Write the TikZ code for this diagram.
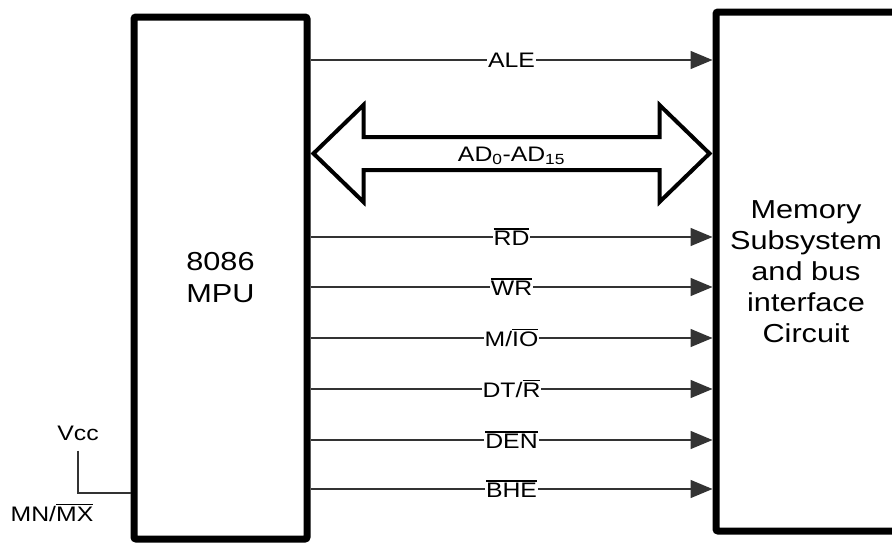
\documentclass[tikz,border=0pt]{standalone}
\usepackage{fontspec}
\setmainfont{Liberation Sans}[FakeStretch=1.18]
\usetikzlibrary{arrows.meta,calc}
\newcommand{\ovbar}[1]{\leavevmode\vbox{\hrule height 1.3pt\kern1.8pt\hbox{#1}}}

\begin{document}
\begin{tikzpicture}[x=1pt, y=-1pt,
    block/.style={draw, line width=7pt, rounded corners=2pt, align=center, font=\fontsize{26}{32}\selectfont},
    sig/.style={draw=black!80, line width=1.5pt, -{Triangle[length=22pt,width=18pt]}},
    wire/.style={draw=black!80, line width=2pt},
    lab/.style={fill=white, inner sep=1pt, font=\fontsize{21}{24}\selectfont}]
    \useasboundingbox (0,0) rectangle (892,542);
    \clip (0,0) rectangle (892,542);

    % --- Blocks ---
    \node[block, minimum width=173pt, minimum height=522pt] (mpu) at (220.5,278) {8086\\MPU};
    \node[block, minimum width=180pt, minimum height=519pt, font=\fontsize{26}{31}\selectfont] (mem) at (806,271.5)
        {Memory\\Subsystem\\and bus\\interface\\Circuit};

    % --- Control lines ---
    \foreach \y/\txt in {60/ALE, 237/\ovbar{RD}, 287/\ovbar{WR}, 338/{M/\ovbar{IO}},
                         389/{DT/\ovbar{R}}, 440/\ovbar{DEN}, 489/\ovbar{BHE}} {
        \coordinate (s\y) at (0,\y);
        \draw[sig] (mpu.east |- s\y) -- node[lab] {\txt} (mem.west |- s\y);
    }

    % --- Address/data bus ---
    \coordinate (bus) at (0,153.5);
    \coordinate (bl) at ($(mpu.east |- bus)+(3,0)$);
    \coordinate (br) at ($(mem.west |- bus)+(-3,0)$);
    \draw[line width=4pt, line join=miter, miter limit=10] (bl) -- ++(50,-48.5) -- ++(0,32)
        -- ($(br)+(-50,-16.5)$) -- ++(0,-32) -- (br) -- ++(-50,48.5) -- ++(0,-32)
        -- ($(bl)+(50,16.5)$) -- ++(0,32) -- cycle;
    \node[lab, fill=none] (ad) at ($(bl)!0.5!(br)+(0,2)$) {AD\textsubscript{0}-AD\textsubscript{15}};

    % --- Mode pin ---
    \node[lab, fill=none] (vcc) at (78,433) {Vcc};
    \node[lab, fill=none] (mnmx) at (52,513) {MN/\ovbar{MX}};
    \coordinate (mn) at (0,493);
    \draw[wire] ($(vcc.south)+(0,9)$) -- (vcc.south |- mn) -- (mpu.west |- mn);
\end{tikzpicture}
\end{document}
